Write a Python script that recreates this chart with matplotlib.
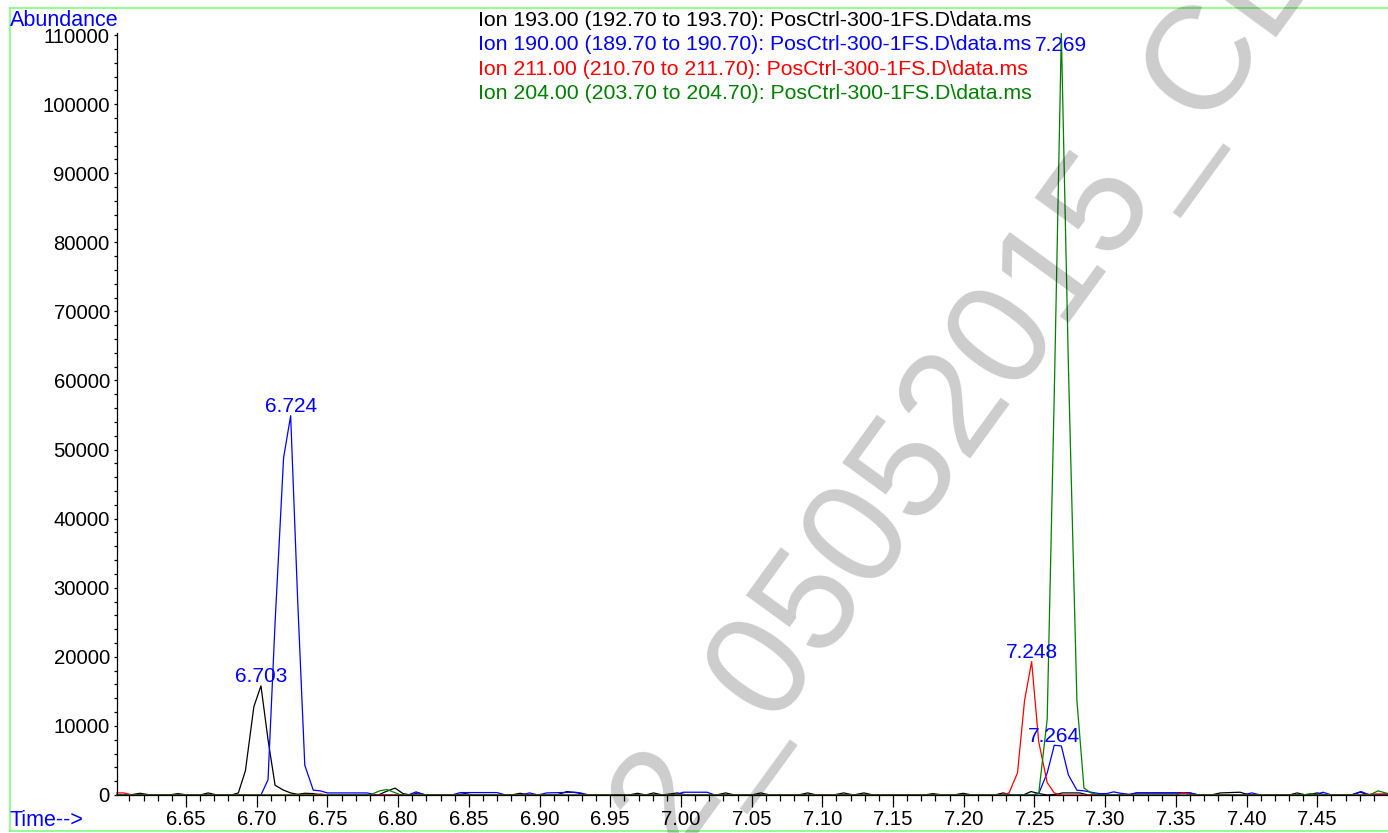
import numpy as np
import matplotlib
matplotlib.use("Agg")
from matplotlib import pyplot as plt
from matplotlib.lines import Line2D
from matplotlib.ticker import FixedLocator, MultipleLocator, FormatStrFormatter

plt.rcParams['font.family'] = ['Liberation Sans', 'DejaVu Sans']

# Ion 193 (black)
t_193 = [6.601, 6.610, 6.6175, 6.625, 6.638, 6.6443, 6.651, 6.660, 6.6656, 6.672, 6.682, 6.687, 6.692, 6.698,
         6.703, 6.708, 6.713, 6.719, 6.724, 6.729, 6.734, 6.740, 6.746, 6.786, 6.7914, 6.7978, 6.8035, 6.809,
         6.814, 6.820, 6.841, 6.8473, 6.853, 6.880, 6.8862, 6.893, 6.912, 6.9194, 6.927, 6.933, 6.963, 6.9693,
         6.975, 6.9806, 6.987, 6.9975, 7.004, 7.025, 7.0316, 7.038, 7.050, 7.0564, 7.063, 7.083, 7.0896, 7.096,
         7.108, 7.1151, 7.122, 7.1294, 7.136, 7.172, 7.1783, 7.185, 7.193, 7.1995, 7.206, 7.222, 7.2278, 7.234,
         7.242, 7.2476, 7.2533, 7.259, 7.265, 7.270, 7.282, 7.288, 7.317, 7.3225, 7.360, 7.366, 7.375, 7.3813,
         7.3954, 7.402, 7.430, 7.4357, 7.442, 7.450, 7.456, 7.474, 7.4803, 7.487, 7.500]
v_193 = [0, 0, 250, 0, 0, 200, 0, 0, 300, 0, 0, 300, 3500, 12800,
         15800, 8000, 1400, 700, 300, 100, 250, 200, 0, 0, 500, 1000, 200, 0,
         300, 0, 0, 200, 0, 0, 250, 0, 0, 500, 300, 0, 0, 250,
         0, 300, 0, 300, 0, 0, 300, 0, 0, 300, 0, 0, 300, 0,
         0, 300, 0, 300, 0, 0, 200, 0, 0, 250, 0, 0, 300, 0,
         0, 500, 200, 0, 100, 300, 300, 0, 0, 300, 300, 0, 0, 300,
         400, 0, 0, 300, 0, 300, 0, 0, 400, 0, 100]

# Ion 190 (blue)
t_190 = [6.601, 6.698, 6.703, 6.708, 6.713, 6.719, 6.724, 6.729, 6.734, 6.740, 6.745, 6.750, 6.778, 6.785,
         6.807, 6.8127, 6.819, 6.838, 6.844, 6.870, 6.876, 6.887, 6.893, 6.899, 6.905, 6.925, 6.929, 6.935,
         6.996, 7.0015, 7.0185, 7.024, 7.248, 7.253, 7.259, 7.264, 7.269, 7.274, 7.280, 7.285, 7.290, 7.296,
         7.301, 7.306, 7.311, 7.317, 7.322, 7.360, 7.366, 7.397, 7.4037, 7.410, 7.448, 7.454, 7.460, 7.474,
         7.4809, 7.487, 7.500]
v_190 = [0, 0, 0, 2200, 25000, 48800, 54900, 28000, 4300, 700, 600, 300, 300, 0,
         0, 450, 0, 0, 350, 350, 0, 0, 300, 0, 300, 400, 300, 0,
         0, 400, 400, 0, 0, 200, 3200, 7200, 7100, 2900, 700, 600, 400, 200,
         200, 450, 250, 100, 300, 300, 0, 0, 300, 0, 0, 400, 0, 0,
         500, 0, 100]

# Ion 211 (red)
t_211 = [6.601, 6.606, 6.612, 6.740, 6.745, 6.750, 7.227, 7.232, 7.238, 7.243, 7.248, 7.253, 7.259, 7.264,
         7.269, 7.350, 7.355, 7.362, 7.480, 7.490, 7.500]
v_211 = [300, 300, 0, 0, 150, 0, 0, 300, 3200, 13700, 19300, 7700, 1800, 300,
         0, 0, 300, 0, 0, 150, 150]

# Ion 204 (green)
t_204 = [6.601, 6.780, 6.787, 6.792, 6.797, 6.802, 7.248, 7.253, 7.259, 7.264, 7.269, 7.274, 7.280, 7.285,
         7.290, 7.296, 7.440, 7.445, 7.450, 7.487, 7.493, 7.500]
v_204 = [0, 0, 600, 800, 400, 0, 0, 200, 11000, 58000, 110200, 62000, 13700, 1000,
         300, 0, 0, 200, 0, 0, 600, 200]

peak_times = [6.703, 6.724, 7.248, 7.264, 7.269]
peak_values = [15800, 54900, 19300, 7200, 110200]
peak_labels = ['6.703', '6.724', '7.248', '7.264', '7.269']

legend_lines = ['Ion 193.00 (192.70 to 193.70): PosCtrl-300-1FS.D\\data.ms',
                'Ion 190.00 (189.70 to 190.70): PosCtrl-300-1FS.D\\data.ms',
                'Ion 211.00 (210.70 to 211.70): PosCtrl-300-1FS.D\\data.ms',
                'Ion 204.00 (203.70 to 204.70): PosCtrl-300-1FS.D\\data.ms']
colors = ['black', '#0000ff', '#ff0000', '#008000']

W, H = 1388, 833
fig = plt.figure(figsize=(W / 100, H / 100), dpi=100, facecolor='white')
ax = fig.add_axes([117 / W, 38 / H, 1 - 117 / W, 762 / H])
ax.set_facecolor('white')

for t, v, c in zip([t_193, t_190, t_211, t_204], [v_193, v_190, v_211, v_204], colors):
    ax.plot(t, v, color=c, lw=0.9, clip_on=False)

ymax = 110300
ax.set_xlim(6.6012, 7.5)
ax.set_ylim(0, ymax)

for t, v, s in zip(peak_times, peak_values, peak_labels):
    if v > 0.95 * ymax:
        ax.text(t, 108500, s, color='#0000ff', fontsize=15, ha='center', va='center')
    else:
        ax.annotate(s, (t, v), xytext=(0, 2.5), textcoords='offset points', color='#0000ff',
                    fontsize=15, ha='center', va='baseline')

ax.spines['top'].set_visible(False)
ax.spines['right'].set_visible(False)
ax.spines['left'].set_linewidth(0.9)
ax.spines['bottom'].set_linewidth(0.9)

ax.xaxis.set_major_locator(FixedLocator(np.round(np.arange(6.65, 7.451, 0.05), 2)))
ax.xaxis.set_minor_locator(FixedLocator(np.round(np.arange(6.61, 7.491, 0.01), 2)))
ax.xaxis.set_major_formatter(FormatStrFormatter('%.2f'))
ax.yaxis.set_major_locator(FixedLocator(np.arange(0, 110001, 10000)))
ax.yaxis.set_minor_locator(MultipleLocator(2000))
ax.yaxis.set_major_formatter(FormatStrFormatter('%d'))
ax.tick_params(axis='x', which='major', length=8.6, width=0.9, pad=2, labelsize=14.6)
ax.tick_params(axis='x', which='minor', length=4.3, width=0.9)
ax.tick_params(axis='y', which='major', length=2.2, width=0.9, pad=3, labelsize=14.6)
ax.tick_params(axis='y', which='minor', length=2.2, width=0.9)

fig.text(10 / W, 1 - 20 / H, 'Abundance', color='#0000ff', fontsize=15.5, va='center', ha='left')
fig.text(10 / W, 1 - 820 / H, 'Time-->', color='#0000ff', fontsize=15.5, va='center', ha='left')

for i, (s, c) in enumerate(zip(legend_lines, colors)):
    fig.text(478 / W, 1 - (20 + 24.6 * i) / H, s, color=c, fontsize=15.3, va='center', ha='left')

# green frame
frame = '#80ff80'
fig.add_artist(Line2D([9.5 / W, 1], [1 - 8 / H, 1 - 8 / H], color=frame, lw=1.2, transform=fig.transFigure))
fig.add_artist(Line2D([9.5 / W, 1], [1 - 831 / H, 1 - 831 / H], color=frame, lw=1.2, transform=fig.transFigure))
fig.add_artist(Line2D([9.5 / W, 9.5 / W], [1 - 8 / H, 1 - 831 / H], color=frame, lw=1.2, transform=fig.transFigure))

# watermark
fig.text(675 / W, 1 - 855 / H, '2_05052015_CL', rotation=54, rotation_mode='anchor', ha='left', va='baseline',
         fontsize=106, color='black', alpha=0.2, zorder=10)

fig.savefig('out.png', dpi=100)
